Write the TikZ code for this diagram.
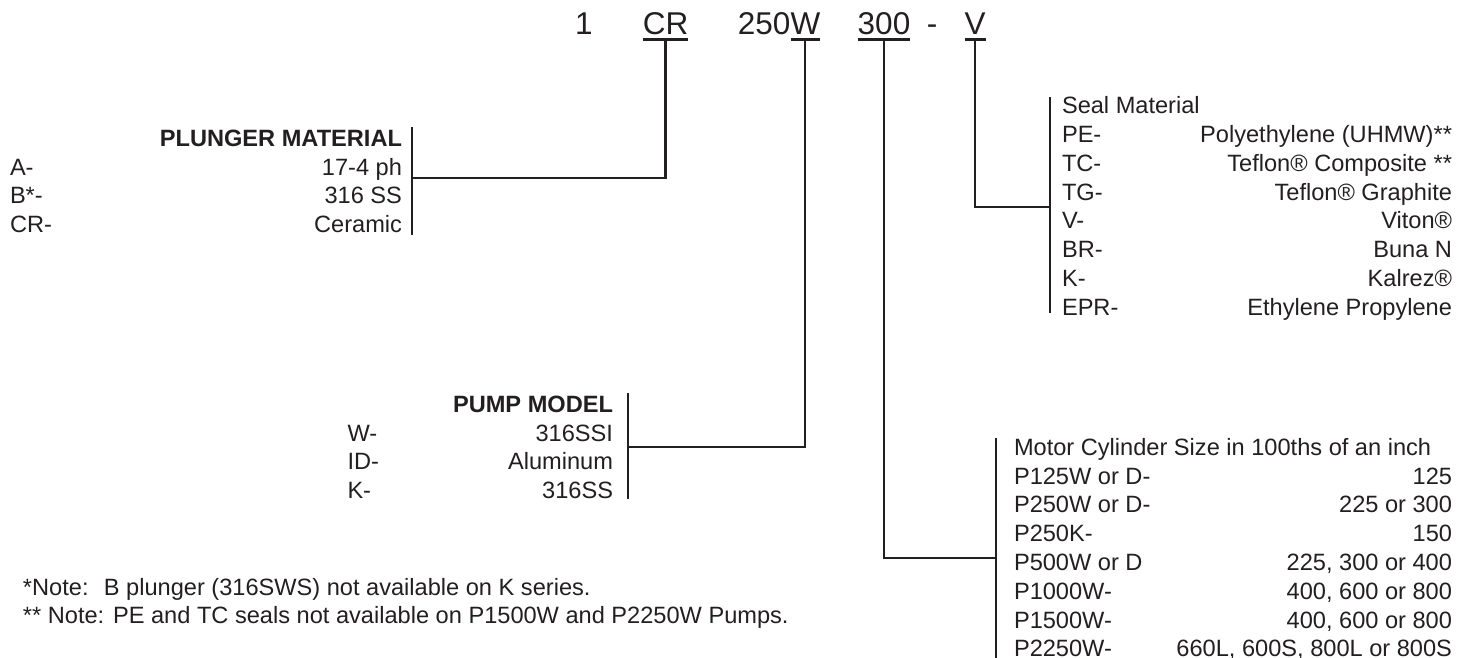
\documentclass[tikz,border=0pt]{standalone}
\usepackage{fontspec}
\setmainfont{Liberation Sans}
\definecolor{ink}{RGB}{35,31,32}
\tikzset{
  txt/.style={inner sep=0pt, outer sep=0pt, text=ink, font=\fontsize{23.6}{28}\selectfont},
  lt/.style={txt, anchor=base west},
  rt/.style={txt, anchor=base east},
  hd/.style={rt, font=\fontsize{23.6}{28}\selectfont\bfseries},
  code/.style={inner sep=0pt, outer sep=0pt, text=ink, anchor=base, font=\fontsize{31.5}{36}\selectfont},
  ln/.style={draw=ink, line width=2.2pt},
  conn/.style={ln, line join=miter}
}
\begin{document}
\begin{tikzpicture}[x=1pt,y=-1pt]
\useasboundingbox (0,0) rectangle (1472,658);
% ---------- model code ----------
\node[code] (c1) at (584,35) {1};
\node[code] (cCR) at (665.5,35) {CR};
\node[code, anchor=base east] (c250) at (790.5,35) {250};
\node[code, anchor=base west] (cW) at (c250.base east) {W};
\node[code] (c300) at (884,35) {300};
\node[code] (cdash) at (932,35) {-};
\node[code] (cV) at (975,35) {V};
\foreach \n in {cCR,cW,c300,cV}
  \draw[ln] ([yshift=-4.5pt]\n.base west) -- ([yshift=-4.5pt]\n.base east);
% ---------- bars and junctions ----------
\coordinate (pmT) at (412,127); \coordinate (pmB) at (412,235); \coordinate (pmJ) at (412,178);
\coordinate (pdT) at (628,393); \coordinate (pdB) at (628,499); \coordinate (pdJ) at (628,447);
\coordinate (mcT) at (996,438); \coordinate (mcB) at (996,658); \coordinate (mcJ) at (996,558);
\coordinate (smT) at (1050,97); \coordinate (smB) at (1050,313); \coordinate (smJ) at (1050,207);
\draw[ln] (pmT) -- (pmB);
\draw[ln] (pdT) -- (pdB);
\draw[ln] (mcT) -- (mcB);
\draw[ln] (smT) -- (smB);
\draw[conn] ([yshift=-4.5pt]cCR.base) |- (pmJ);
\draw[conn] ([yshift=-4.5pt]cW.base) |- (pdJ);
\draw[conn] ([yshift=-4.5pt]c300.base) |- (mcJ);
\draw[conn] ([yshift=-4.5pt]cV.base) |- (smJ);
% ---------- plunger material ----------
\node[hd] (pmH) at (402,146.3) {PLUNGER MATERIAL};
\foreach [count=\i] \a/\b in {A-/17-4 ph, B*-/316 SS, CR-/Ceramic} {
  \node[lt] (pmL\i) at (10,146.3+28.8*\i) {\a};
  \node[rt] (pmR\i) at (402,146.3+28.8*\i) {\b};
}
% ---------- pump model ----------
\node[hd] (pdH) at (613,412.3) {PUMP MODEL};
\foreach [count=\i] \a/\b in {W-/316SSI, ID-/Aluminum, K-/316SS} {
  \node[lt] (pdL\i) at (347.5,412.3+28.8*\i) {\a};
  \node[rt] (pdR\i) at (613,412.3+28.8*\i) {\b};
}
% ---------- seal material ----------
\node[lt] (smH) at (1062,113.3) {Seal Material};
\foreach [count=\i] \a/\b in {PE-/Polyethylene (UHMW)**, TC-/Teflon® Composite **, TG-/Teflon® Graphite, V-/Viton®, BR-/Buna N, K-/Kalrez®, EPR-/Ethylene Propylene} {
  \node[lt] (smL\i) at (1062,113.3+28.9*\i) {\a};
  \node[rt] (smR\i) at (1452,113.3+28.9*\i) {\b};
}
% ---------- motor cylinder ----------
\node[lt] (mcH) at (1014,455.3) {Motor Cylinder Size in 100ths of an inch};
\foreach [count=\i] \a/\b in {P125W or D-/125, P250W or D-/225 or 300, P250K-/150, P500W or D/{225, 300 or 400}, P1000W-/{400, 600 or 800}, P1500W-/{400, 600 or 800}, P2250W-/{660L, 600S, 800L or 800S}} {
  \node[lt] (mcL\i) at (1014,455.3+28.8*\i) {\a};
  \node[rt] (mcR\i) at (1452,455.3+28.8*\i) {\b};
}
% ---------- notes ----------
\node[lt] (n1) at (23,595.3) {*Note:~ B plunger (316SWS) not available on K series.};
\node[lt] (n2) at (23,623.3) {** Note: PE and TC seals not available on P1500W and P2250W Pumps.};
\end{tikzpicture}
\end{document}
